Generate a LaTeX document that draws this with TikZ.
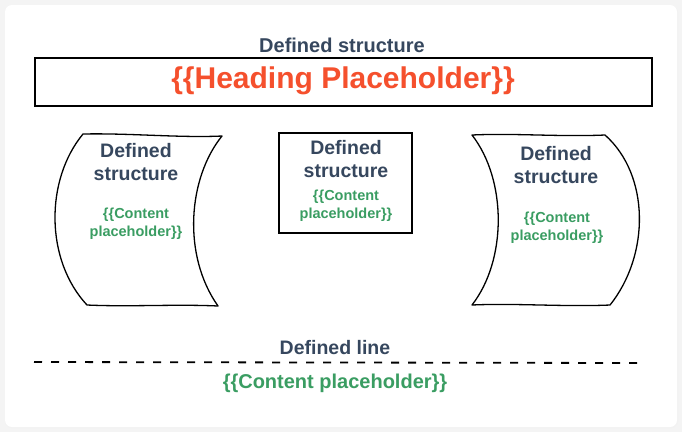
\documentclass[tikz,border=0pt]{standalone}
\usepackage{fontspec}
\setmainfont{Liberation Sans}
\definecolor{slate}{HTML}{36475E}
\definecolor{leaf}{HTML}{3A9D62}
\definecolor{flame}{HTML}{F5502D}
\definecolor{pagebg}{HTML}{F4F4F4}
\tikzset{
  titletxt/.style={text=slate, font=\bfseries\fontsize{19.5}{23}\selectfont, align=center, inner sep=0pt},
  greentxt/.style={text=leaf, font=\bfseries\fontsize{14.5}{18}\selectfont, align=center, inner sep=0pt},
  sketch/.style={draw=black, line width=1.3pt, line join=round},
}
\begin{document}
\begin{tikzpicture}[x=1pt,y=-1pt]
\useasboundingbox (0,0) rectangle (682,432);
\fill[pagebg] (0,0) rectangle (682,432);
\fill[gray!10] (5,6) [rounded corners=7pt] rectangle (678,428);
\fill[white, rounded corners=7pt] (5,5) rectangle (677,427);
% top
\node[titletxt, font=\bfseries\fontsize{20}{24}\selectfont] (t0) at (342,45) {Defined structure};
\draw[line width=1.5pt] (35,58) rectangle (652,106);
\node[text=flame, font=\bfseries\fontsize{30}{34}\selectfont, inner sep=0pt] (head) at (343,81) {\{\{Heading Placeholder\}\}};
% left wavy shape
\draw[sketch] (83,134) .. controls (130,133) and (180,138) .. (222,136)
  .. controls (188,178) and (182,255) .. (218,306)
  .. controls (175,304) and (130,307) .. (87,305)
  .. controls (45,260) and (45,180) .. (83,134) -- cycle;
\node[titletxt] (lt) at (136,162) {Defined\\structure};
\node[greentxt] (lg) at (136,224) {\{\{Content\\placeholder\}\}};
% middle box
\draw[line width=1.3pt] (279,133) rectangle (412,233);
\node[titletxt] (mt) at (346,159) {Defined\\structure};
\node[greentxt] (mg) at (346,206) {\{\{Content\\placeholder\}\}};
% right wavy shape
\draw[sketch] (472,135) .. controls (515,133) and (560,137) .. (605,135)
  .. controls (650,175) and (650,255) .. (610,305)
  .. controls (565,307) and (515,303) .. (472,305)
  .. controls (507,260) and (507,180) .. (472,135) -- cycle;
\node[titletxt] (rt) at (556,165) {Defined\\structure};
\node[greentxt] (rg) at (557,228) {\{\{Content\\placeholder\}\}};
% line
\node[titletxt] (dl) at (335,348) {Defined line};
\coordinate (la) at (34,362);
\coordinate (lb) at (637,363);
\draw[line width=1.8pt, dash pattern=on 8pt off 9pt] (la) -- (lb);
\node[text=leaf, font=\bfseries\fontsize{20}{24}\selectfont, inner sep=0pt] (bg) at (335,383) {\{\{Content placeholder\}\}};
\end{tikzpicture}
\end{document}
